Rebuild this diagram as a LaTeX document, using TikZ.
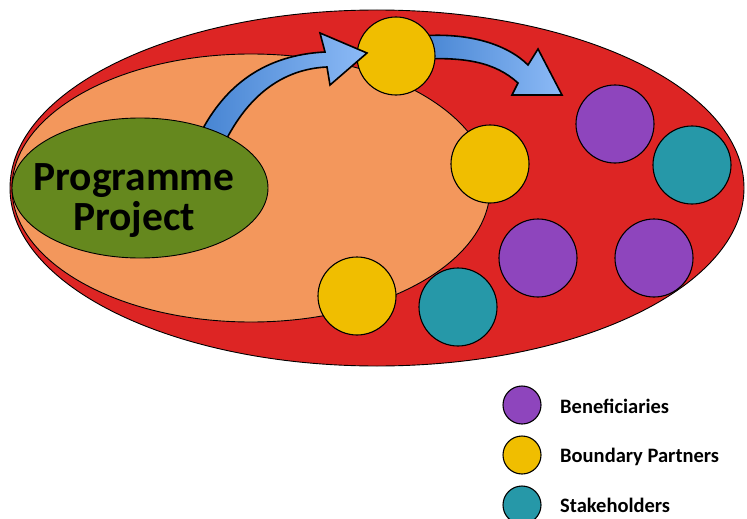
\documentclass[tikz,border=0pt]{standalone}
\usepackage{fontspec}
\setmainfont{Carlito}
\usetikzlibrary{shapes.geometric}
\definecolor{zonered}{RGB}{221,37,36}
\definecolor{zoneorange}{RGB}{243,151,92}
\definecolor{progreen}{RGB}{101,136,30}
\definecolor{bpyellow}{RGB}{240,190,0}
\definecolor{benpurple}{RGB}{142,69,189}
\definecolor{shteal}{RGB}{38,152,168}
\definecolor{arrowdark}{RGB}{70,132,210}
\definecolor{arrowlight}{RGB}{140,186,246}
\tikzstyle{every picture} = [x=1pt, y=-1pt]
\tikzstyle{zone} = [ellipse, draw, line width=0.9pt, inner sep=0pt]
\tikzstyle{actor} = [circle, draw, line width=1.1pt, minimum size=78pt, inner sep=0pt]
\tikzstyle{keydot} = [circle, draw, line width=1.1pt, minimum size=38pt, inner sep=0pt]
\tikzstyle{blockarrow} = [draw, line width=1.6pt, line join=miter, left color=arrowdark, right color=arrowlight]
\tikzstyle{keytext} = [anchor=base west, inner sep=0pt, font=\fontsize{20.5}{24}\selectfont\bfseries]

\begin{document}
\begin{tikzpicture}
            \useasboundingbox (0,0) rectangle (747,519);

            % spheres of influence
            \node (outer) at(377,188) [zone, fill=zonered, minimum width=734pt, minimum height=356pt] {};
            \node (inner) at(251,188) [zone, fill=zoneorange, minimum width=478pt, minimum height=268pt] {};

            \draw[blockarrow] (420,36) .. controls (470,32) and (508,45) .. (528,65) -- (538,49) -- (562,95) -- (512,95) -- (518,83)
                  .. controls (495,62) and (465,57) .. (420,59) -- cycle;

            \node (bp 1) at(396,56) [actor, fill=bpyellow] {};
            \node (bp 2) at(490,164) [actor, fill=bpyellow] {};
            \node (bp 3) at(357,296) [actor, fill=bpyellow] {};
            \node (sh 1) at(458,307) [actor, fill=shteal] {};
            \node (sh 2) at(692,165) [actor, fill=shteal] {};
            \node (ben 1) at(538,258) [actor, fill=benpurple] {};
            \node (ben 2) at(615,124) [actor, fill=benpurple] {};
            \node (ben 3) at(654,258) [actor, fill=benpurple] {};

            \draw[blockarrow] (200,134) .. controls (225,85) and (265,55) .. (325,52) -- (320,33) -- (367,53) -- (330,85) -- (327,67)
                  .. controls (283,69) and (248,95) .. (224,144) -- cycle;

            \node (prog) at(140,188) [zone, fill=progreen, minimum width=256pt, minimum height=140pt] {};
            \node (prog label) at(134,201) [align=center, inner sep=0pt, font=\fontsize{41.5}{40}\selectfont\bfseries] {Programme\\Project};

            % key
            \node (key ben) at(522,405) [keydot, fill=benpurple] {};
            \node (key bp) at(522,455) [keydot, fill=bpyellow] {};
            \node (key sh) at(522,505) [keydot, fill=shteal] {};
            \node (key ben text) at(560,413) [keytext] {Beneficiaries};
            \node (key bp text) at(560,462) [keytext] {Boundary Partners};
            \node (key sh text) at(560,512) [keytext] {Stakeholders};

        \end{tikzpicture}
\end{document}
